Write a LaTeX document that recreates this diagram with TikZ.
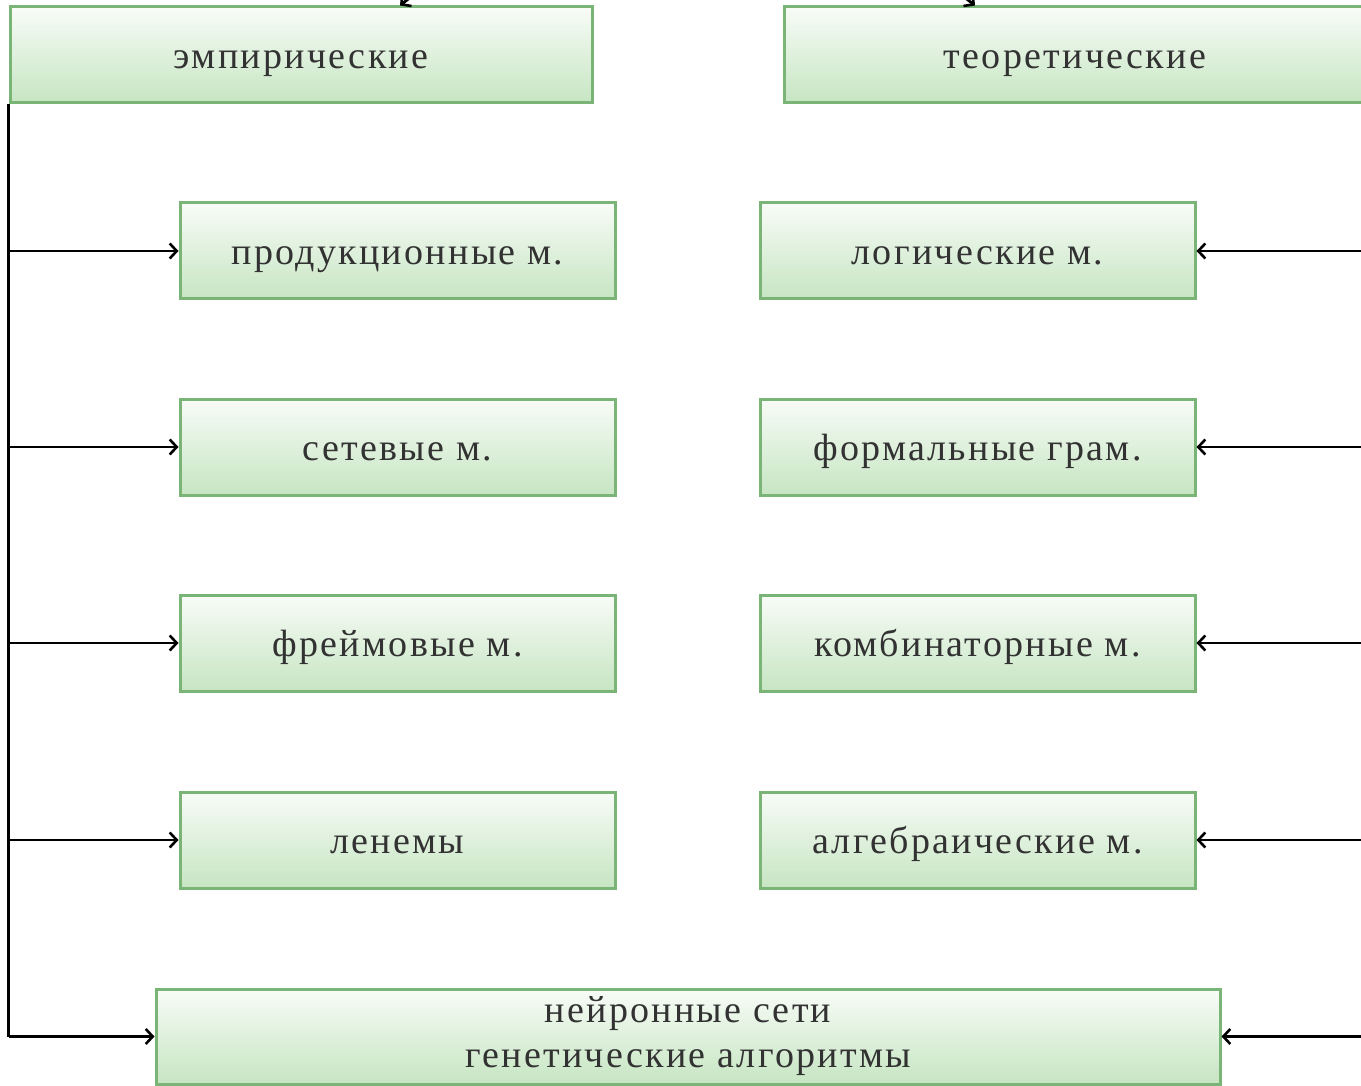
\documentclass[tikz,border=0pt]{standalone}
\usepackage{fontspec}
\setmainfont{Liberation Serif}[LetterSpace=6]
\usetikzlibrary{arrows.meta}
\definecolor{boxtop}{RGB}{248,252,247}
\definecolor{boxbottom}{RGB}{198,229,194}
\definecolor{boxline}{RGB}{122,180,118}
\definecolor{txt}{RGB}{50,50,50}
\tikzset{
  kbox/.style={draw=boxline, line width=3pt, top color=boxtop, bottom color=boxbottom,
    minimum height=96pt, inner sep=0pt, text=txt,
    font=\fontsize{38}{46}\selectfont, text height=36pt, text depth=9pt},
  link/.style={line width=2.8pt, -{Straight Barb[length=7pt,width=15pt,line width=2.6pt]}},
}
\begin{document}
\begin{tikzpicture}[x=1pt,y=-1pt]
  \useasboundingbox (0,0) rectangle (1361,1086);
  \clip (0,0) rectangle (1361,1086);
  \fill[white] (0,0) rectangle (1361,1086);

  % two main groups
  \node[kbox, minimum width=582pt] (emp) at (301,55) {эмпирические};
  \node[kbox, minimum width=582pt] (teo) at (1075,55) {теоретические};

  % empirical models
  \node[kbox, minimum width=435pt] (l1) at (397.5,251) {продукционные м.};
  \node[kbox, minimum width=435pt] (l2) at (397.5,447) {сетевые м.};
  \node[kbox, minimum width=435pt] (l3) at (397.5,643) {фреймовые м.};
  \node[kbox, minimum width=435pt] (l4) at (397.5,840) {ленемы};

  % theoretical models
  \node[kbox, minimum width=435pt] (r1) at (977.5,251) {логические м.};
  \node[kbox, minimum width=435pt] (r2) at (977.5,447) {формальные грам.};
  \node[kbox, minimum width=435pt] (r3) at (977.5,643) {комбинаторные м.};
  \node[kbox, minimum width=435pt] (r4) at (977.5,840) {алгебраические м.};

  % common box
  \node[kbox, minimum width=1064pt, minimum height=95pt, align=center,
        text height=, text depth=] (nn) at (688,1036.5)
    {нейронные сети\\[-1pt]генетические алгоритмы};

  % links from the parent node above
  \coordinate (top) at (688,-220);
  \draw[link] (top) -- (emp.north -| 400,0);
  \draw[link] (top) -- (teo.north -| 975,0);

  % left trunk
  \coordinate (lt) at (emp.south west);
  \draw[line width=2.8pt] (lt) -- (lt |- nn.west);
  \foreach \n in {l1,l2,l3,l4,nn}
    \draw[link] (lt |- \n.west) -- (\n.west);

  % right trunk (outside the frame)
  \coordinate (rt) at (1400,0);
  \foreach \n in {r1,r2,r3,r4,nn}
    \draw[link] (rt |- \n.east) -- (\n.east);
\end{tikzpicture}
\end{document}
